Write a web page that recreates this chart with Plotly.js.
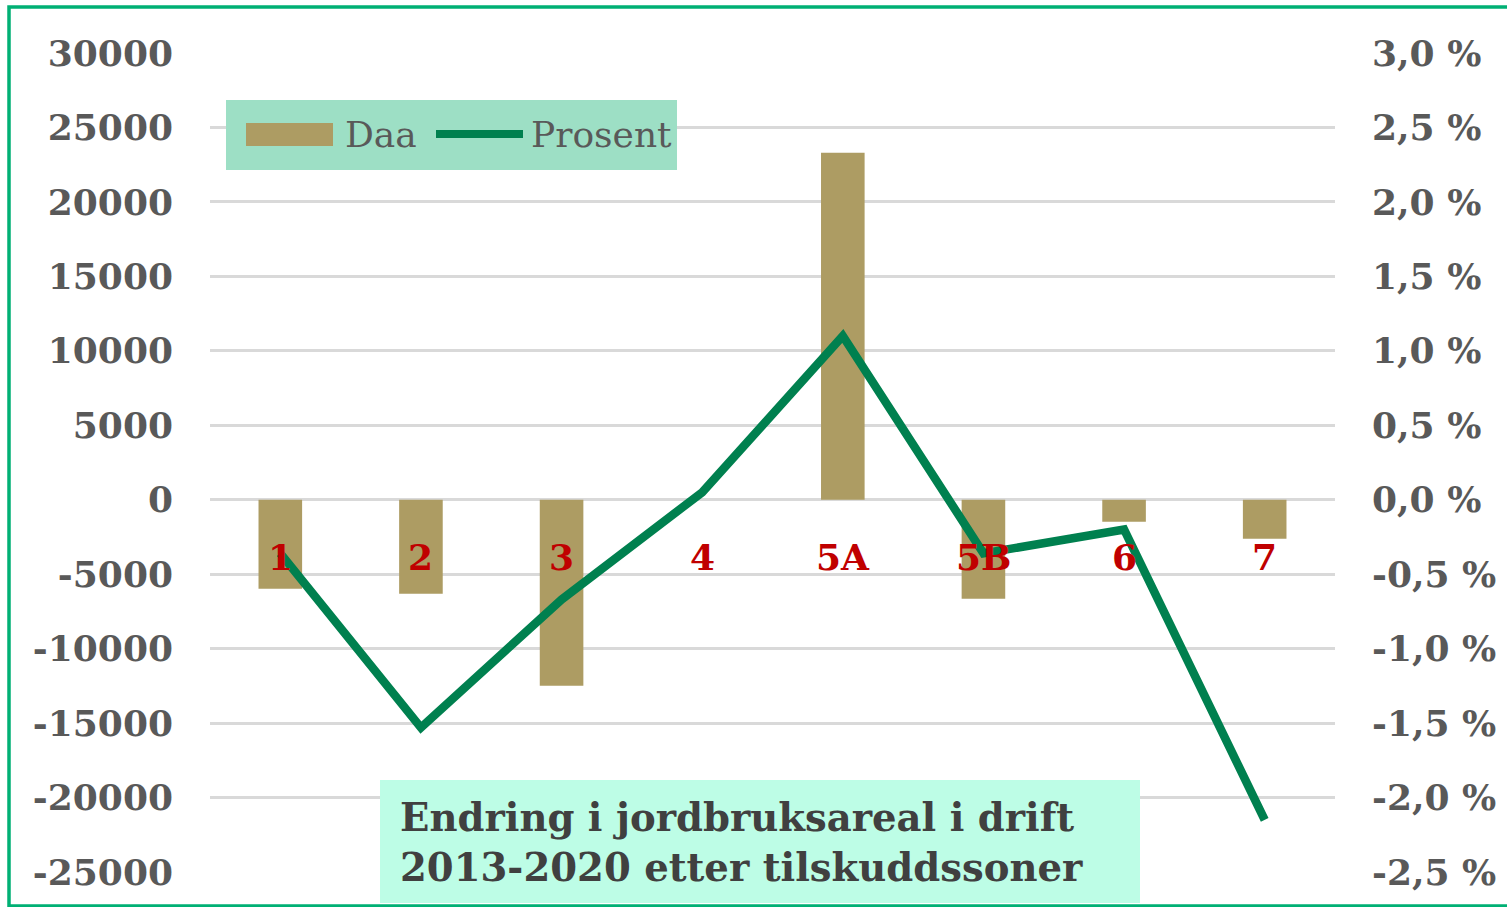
<!DOCTYPE html>
<html>
<head>
<meta charset="utf-8">
<script src="https://cdn.plot.ly/plotly-3.0.1.min.js"></script>
<style>
html,body{margin:0;padding:0;background:#fff;}
#chart{width:1507px;height:907px;}
</style>
</head>
<body>
<div id="chart"></div>
<script>
// Data
var categories = ['1', '2', '3', '4', '5A', '5B', '6', '7'];
var daa = [-5980, -6310, -12490, 0, 23300, -6650, -1480, -2620];
var prosent = [-0.36, -1.53, -0.67, 0.05, 1.10, -0.36, -0.20, -2.15];
var leftTickVals = [30000, 25000, 20000, 15000, 10000, 5000, 0, -5000, -10000, -15000, -20000, -25000];
var leftTickText = ['30000', '25000', '20000', '15000', '10000', '5000', '0', '-5000', '-10000', '-15000', '-20000', '-25000'];
var rightTickVals = [3.0, 2.5, 2.0, 1.5, 1.0, 0.5, 0.0, -0.5, -1.0, -1.5, -2.0, -2.5];
var rightTickText = ['3,0 %', '2,5 %', '2,0 %', '1,5 %', '1,0 %', '0,5 %', '0,0 %', '-0,5 %', '-1,0 %', '-1,5 %', '-2,0 %', '-2,5 %'];
var seriesNames = ['Daa', 'Prosent'];
var titleLines = ['Endring i jordbruksareal i drift', '2013-2020 etter tilskuddssoner'];
var labelY = -3830;

var serif = 'DejaVu Serif, Liberation Serif, serif';
var barColor = '#AD9C63';
var lineColor = '#00804F';

var traces = [
  {
    type: 'bar', name: seriesNames[0], x: categories, y: daa,
    marker: {color: barColor}, width: 0.31, yaxis: 'y', showlegend: false
  },
  {
    type: 'scatter', mode: 'lines', name: seriesNames[1], x: categories, y: prosent,
    line: {color: lineColor, width: 8.5}, yaxis: 'y2', showlegend: false
  }
];

function px(x) { return (x - 210) / 1125; }
function py(y) { return (872 - y) / 819; }

var annotations = categories.map(function (c, i) {
  return {
    x: i, y: labelY, xref: 'x', yref: 'y', text: c, showarrow: false,
    font: {family: serif, size: 36, color: '#C00000', weight: 'bold'},
    xanchor: 'center', yanchor: 'middle'
  };
});
// title
annotations.push({
  xref: 'paper', yref: 'paper', x: px(398), y: py(842), xanchor: 'left', yanchor: 'middle',
  align: 'left', showarrow: false, text: titleLines.join('<br>'),
  font: {family: serif, size: 38.6, color: '#404040', weight: 'bold'}
});
// legend texts
annotations.push({
  xref: 'paper', yref: 'paper', x: px(343), y: py(134), xanchor: 'left', yanchor: 'middle',
  showarrow: false, text: seriesNames[0],
  font: {family: serif, size: 36, color: '#595959'}
});
annotations.push({
  xref: 'paper', yref: 'paper', x: px(529), y: py(134), xanchor: 'left', yanchor: 'middle',
  showarrow: false, text: seriesNames[1],
  font: {family: serif, size: 36, color: '#595959'}
});

var layout = {
  width: 1507, height: 907,
  margin: {l: 210, r: 172, t: 53, b: 35, pad: 0},
  paper_bgcolor: '#ffffff', plot_bgcolor: '#ffffff',
  showlegend: false,
  bargap: 0.69,
  xaxis: {
    type: 'category', categoryorder: 'array', categoryarray: categories,
    showticklabels: false, showgrid: false, zeroline: false, showline: false, ticks: ''
  },
  yaxis: {
    range: [-25000, 30000], tickvals: leftTickVals, ticktext: leftTickText,
    showgrid: true, gridcolor: '#D9D9D9', gridwidth: 3,
    zeroline: true, zerolinecolor: '#D9D9D9', zerolinewidth: 3,
    showline: false, ticks: '', ticklabelstandoff: 36,
    tickfont: {family: serif, size: 36, color: '#595959', weight: 'bold'}
  },
  yaxis2: {
    range: [-2.5, 3.0], overlaying: 'y', side: 'right',
    tickvals: rightTickVals, ticktext: rightTickText,
    showgrid: false, zeroline: false, showline: false, ticks: '', ticklabelstandoff: 36,
    tickfont: {family: serif, size: 36, color: '#595959', weight: 'bold'}
  },
  shapes: [
    // title box
    {
      type: 'rect', xref: 'paper', yref: 'paper', layer: 'above',
      x0: px(380), x1: px(1140), y0: py(903), y1: py(780),
      fillcolor: '#BDFDE6', line: {width: 0}
    },
    // legend box
    {
      type: 'rect', xref: 'paper', yref: 'paper', layer: 'above',
      x0: px(226), x1: px(677), y0: py(170), y1: py(100),
      fillcolor: '#9DDFC5', line: {width: 0}
    },
    // legend bar swatch
    {
      type: 'rect', xref: 'paper', yref: 'paper', layer: 'above',
      x0: px(246), x1: px(333), y0: py(146), y1: py(123),
      fillcolor: barColor, line: {width: 0}
    },
    // legend line swatch
    {
      type: 'line', xref: 'paper', yref: 'paper', layer: 'above',
      x0: px(436), x1: px(523), y0: py(134), y1: py(134),
      line: {color: lineColor, width: 8}
    },
    // outer frame
    {
      type: 'rect', xref: 'paper', yref: 'paper', layer: 'above',
      x0: px(9), x1: px(1512), y0: py(906), y1: py(7),
      fillcolor: 'rgba(0,0,0,0)', line: {color: '#00B074', width: 3.5}
    }
  ],
  annotations: annotations
};

Plotly.newPlot('chart', traces, layout, {displayModeBar: false, staticPlot: true});
</script>
</body>
</html>
